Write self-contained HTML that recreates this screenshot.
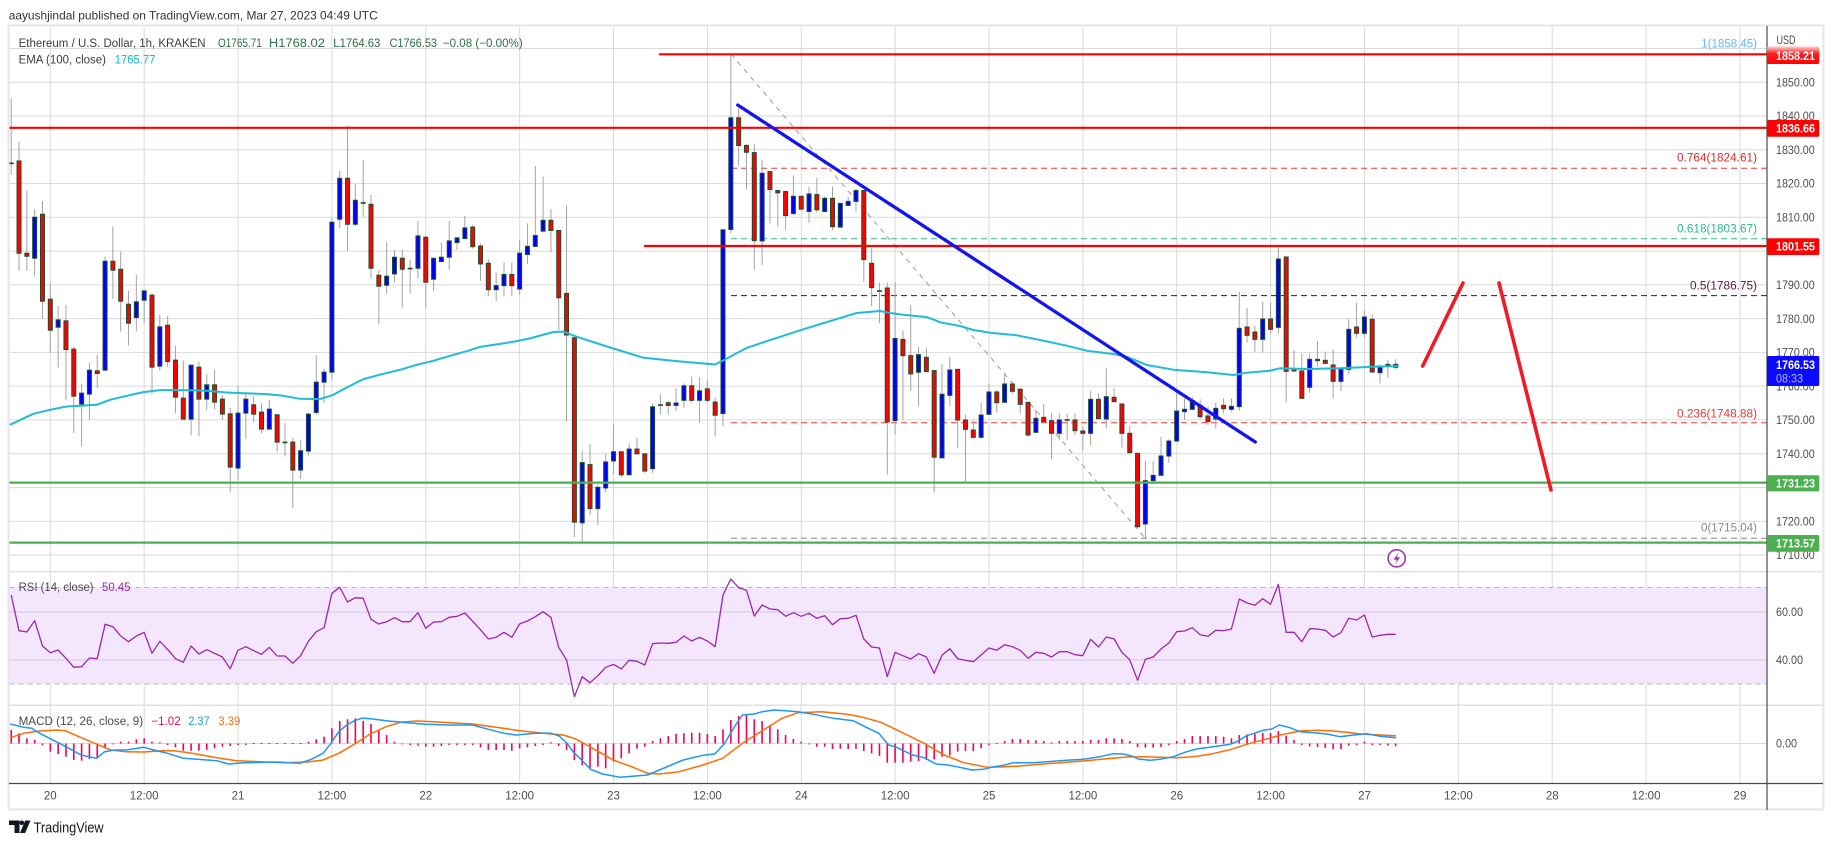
<!DOCTYPE html>
<html><head><meta charset="utf-8">
<style>
html,body{margin:0;padding:0;background:#fff;}
body{width:1834px;height:845px;overflow:hidden;position:relative;}
svg{position:absolute;left:0;top:0;}
</style></head><body>
<svg id="c" width="1834" height="845" viewBox="0 0 1834 845" xmlns="http://www.w3.org/2000/svg" font-family="Liberation Sans, Arial, sans-serif">
<defs>
<clipPath id="pp"><rect x="9.5" y="27" width="1757" height="544"/></clipPath>
<clipPath id="rp"><rect x="9.5" y="572.5" width="1757" height="132"/></clipPath>
<clipPath id="mp"><rect x="9.5" y="706" width="1757" height="77"/></clipPath>
<linearGradient id="bg1" x1="0" y1="0" x2="0" y2="1"><stop offset="0" stop-color="#ffd0d0"/><stop offset="0.4" stop-color="#ff2020"/><stop offset="1" stop-color="#ff0000"/></linearGradient>
</defs>
<rect x="0" y="0" width="1834" height="845" fill="#fff"/>
<g id="grid"></g>
<!-- RSI band -->
<rect x="9.5" y="587.5" width="1757" height="96.5" fill="#f3e6fd"/>
<line x1="9.5" y1="612" x2="1767" y2="612" stroke="#d4c4e2" stroke-width="1"/>
<line x1="9.5" y1="660" x2="1767" y2="660" stroke="#d4c4e2" stroke-width="1"/>
<line x1="9.5" y1="587.5" x2="1767" y2="587.5" stroke="#b8b8c0" stroke-width="1" stroke-dasharray="5,4"/>
<line x1="9.5" y1="684" x2="1767" y2="684" stroke="#b8b8c0" stroke-width="1" stroke-dasharray="5,4"/>
<line x1="9.5" y1="743.5" x2="1767" y2="743.5" stroke="#dadada" stroke-width="1"/>
<!-- pane separators -->
<line x1="9" y1="571.8" x2="1823" y2="571.8" stroke="#e0e2e8" stroke-width="1.5"/>
<line x1="9" y1="705.2" x2="1823" y2="705.2" stroke="#e0e2e8" stroke-width="1.5"/>
<!-- fib dashed lines -->
<g stroke-width="1" stroke-dasharray="6,4" fill="none">
<line x1="731" y1="168.2" x2="1767" y2="168.2" stroke="#e53935"/>
<line x1="731" y1="238.7" x2="1767" y2="238.7" stroke="#2fb88a"/>
<line x1="731" y1="295.6" x2="1767" y2="295.6" stroke="#4a0e2e"/>
<line x1="731" y1="422.8" x2="1767" y2="422.8" stroke="#e53935"/>
<line x1="731" y1="538.3" x2="1767" y2="538.3" stroke="#8a8a8a"/>
</g>
<line x1="731" y1="54" x2="1145" y2="538" stroke="#9a9a9a" stroke-width="1" stroke-dasharray="5,5"/>
<g id="candles" clip-path="url(#pp)"></g>
<g id="ema" clip-path="url(#pp)"></g>
<!-- horizontal S/R lines -->
<g stroke-width="2.2">
<line x1="659" y1="54.3" x2="1767" y2="54.3" stroke="#ff0000"/>
<line x1="9.5" y1="127.8" x2="1767" y2="127.8" stroke="#ff0000"/>
<line x1="644" y1="246" x2="1767" y2="246" stroke="#ff0000"/>
<line x1="9.5" y1="482.6" x2="1767" y2="482.6" stroke="#4caf50"/>
<line x1="9.5" y1="542.6" x2="1767" y2="542.6" stroke="#4caf50"/>
</g>
<!-- trend line -->
<line x1="737.7" y1="105" x2="1255.3" y2="442" stroke="#1414f0" stroke-width="3.3" stroke-linecap="round"/>
<!-- red arrows -->
<line x1="1422.7" y1="366" x2="1463" y2="283" stroke="#ee1c25" stroke-width="3.6" stroke-linecap="round"/>
<line x1="1499" y1="283" x2="1551" y2="490" stroke="#ee1c25" stroke-width="3.6" stroke-linecap="round"/>
<g id="rsi" clip-path="url(#rp)"></g>
<g id="macd" clip-path="url(#mp)"></g>
<!-- fib labels -->
<g font-size="11.5" text-anchor="end">
<text x="1757" y="47.3" fill="#64b5f6" textLength="55.7" lengthAdjust="spacingAndGlyphs">1(1858.45)</text>
<text x="1757" y="161.7" fill="#d32f2f" textLength="80" lengthAdjust="spacingAndGlyphs">0.764(1824.61)</text>
<text x="1757" y="232.7" fill="#2fb88a" textLength="80" lengthAdjust="spacingAndGlyphs">0.618(1803.67)</text>
<text x="1757" y="289.7" fill="#5e1a40" textLength="67" lengthAdjust="spacingAndGlyphs">0.5(1786.75)</text>
<text x="1757" y="417.3" fill="#e53935" textLength="80" lengthAdjust="spacingAndGlyphs">0.236(1748.88)</text>
<text x="1757" y="531.7" fill="#8a8a8a" textLength="56" lengthAdjust="spacingAndGlyphs">0(1715.04)</text>
</g>
<!-- lightning icon -->
<circle cx="1396.7" cy="558.3" r="8.6" fill="#fff" stroke="#9c27b0" stroke-width="1.5"/>
<path d="M1399,552 L1393.6,559.6 L1397,559.6 L1394.8,565 L1400,557.2 L1396.6,557.2 Z" fill="#9c27b0"/>
<!-- frame and axes -->
<rect x="8.5" y="25.5" width="1815" height="784" fill="none" stroke="#e3e5ea" stroke-width="2"/>
<line x1="1767" y1="26" x2="1767" y2="810" stroke="#4a4a4a" stroke-width="1.2"/>
<line x1="9" y1="783.5" x2="1823" y2="783.5" stroke="#4a4a4a" stroke-width="1.2"/>
<!-- price axis labels -->
<g font-size="11.5" fill="#4d4d4d">
<text x="1776.5" y="44" textLength="19" lengthAdjust="spacingAndGlyphs">USD</text>
<text x="1776" y="86.5" textLength="38.7" lengthAdjust="spacingAndGlyphs">1850.00</text>
<text x="1776" y="120.2" textLength="38.7" lengthAdjust="spacingAndGlyphs">1840.00</text>
<text x="1776" y="154" textLength="38.7" lengthAdjust="spacingAndGlyphs">1830.00</text>
<text x="1776" y="187.7" textLength="38.7" lengthAdjust="spacingAndGlyphs">1820.00</text>
<text x="1776" y="221.5" textLength="38.7" lengthAdjust="spacingAndGlyphs">1810.00</text>
<text x="1776" y="289" textLength="38.7" lengthAdjust="spacingAndGlyphs">1790.00</text>
<text x="1776" y="322.8" textLength="38.7" lengthAdjust="spacingAndGlyphs">1780.00</text>
<text x="1776" y="356.6" textLength="38.7" lengthAdjust="spacingAndGlyphs">1770.00</text>
<text x="1776" y="390.4" textLength="38.7" lengthAdjust="spacingAndGlyphs">1760.00</text>
<text x="1776" y="424.1" textLength="38.7" lengthAdjust="spacingAndGlyphs">1750.00</text>
<text x="1776" y="457.9" textLength="38.7" lengthAdjust="spacingAndGlyphs">1740.00</text>
<text x="1776" y="525.4" textLength="38.7" lengthAdjust="spacingAndGlyphs">1720.00</text>
<text x="1776" y="559.2" textLength="38.7" lengthAdjust="spacingAndGlyphs">1710.00</text>
<text x="1776" y="616.2" textLength="27" lengthAdjust="spacingAndGlyphs">60.00</text>
<text x="1776" y="664.2" textLength="27" lengthAdjust="spacingAndGlyphs">40.00</text>
<text x="1776" y="747.5" textLength="21" lengthAdjust="spacingAndGlyphs">0.00</text>
</g>
<!-- badges -->
<rect x="1767" y="46.5" width="52.3" height="17.5" rx="1.5" fill="url(#bg1)"/>
<rect x="1767" y="120" width="52.3" height="16.8" rx="1.5" fill="#ff0000"/>
<rect x="1767" y="238.2" width="52.3" height="16.8" rx="1.5" fill="#ff0000"/>
<rect x="1767" y="356" width="52.3" height="30" rx="1.5" fill="#0a0aff"/>
<rect x="1767" y="475.2" width="52.3" height="16.2" rx="1.5" fill="#4caf50"/>
<rect x="1767" y="535" width="52.3" height="16.7" rx="1.5" fill="#4caf50"/>
<g font-size="11.5" font-weight="bold" fill="#fff">
<text x="1776" y="60" textLength="39" lengthAdjust="spacingAndGlyphs">1858.21</text>
<text x="1776" y="132.5" textLength="39" lengthAdjust="spacingAndGlyphs">1836.66</text>
<text x="1776" y="250.7" textLength="39" lengthAdjust="spacingAndGlyphs">1801.55</text>
<text x="1776" y="369" textLength="39" lengthAdjust="spacingAndGlyphs">1766.53</text>
<text x="1776" y="487.4" textLength="39" lengthAdjust="spacingAndGlyphs">1731.23</text>
<text x="1776" y="547.4" textLength="39" lengthAdjust="spacingAndGlyphs">1713.57</text>
</g>
<text x="1776" y="382.5" font-size="11.5" fill="#b8b8ff" textLength="27" lengthAdjust="spacingAndGlyphs">08:33</text>
<!-- time labels -->
<g id="tl" font-size="11.5" fill="#4d4d4d" text-anchor="middle"></g>
<!-- header & legends -->
<text x="8.7" y="19.5" font-size="12" fill="#333" textLength="369" lengthAdjust="spacingAndGlyphs">aayushjindal published on TradingView.com, Mar 27, 2023 04:49 UTC</text>
<g font-size="11.5">
<text x="18.6" y="47" fill="#3c3c3c" textLength="187" lengthAdjust="spacingAndGlyphs">Ethereum / U.S. Dollar, 1h, KRAKEN</text>
<text x="218" y="47" fill="#2f6b4a" textLength="43.8" lengthAdjust="spacingAndGlyphs">O1765.71</text>
<text x="268.9" y="47" fill="#2f6b4a" textLength="56" lengthAdjust="spacingAndGlyphs">H1768.02</text>
<text x="333.3" y="47" fill="#2f6b4a" textLength="47" lengthAdjust="spacingAndGlyphs">L1764.63</text>
<text x="389.5" y="47" fill="#2f6b4a" textLength="47.5" lengthAdjust="spacingAndGlyphs">C1766.53</text>
<text x="442.9" y="47" fill="#2f6b4a" textLength="79.8" lengthAdjust="spacingAndGlyphs">−0.08 (−0.00%)</text>
<text x="18.6" y="63.5" fill="#3c3c3c" textLength="87.4" lengthAdjust="spacingAndGlyphs">EMA (100, close)</text>
<text x="114.7" y="63.5" fill="#00bcd4" textLength="40.7" lengthAdjust="spacingAndGlyphs">1765.77</text>
<text x="18.6" y="591" fill="#4a4a4a" textLength="75" lengthAdjust="spacingAndGlyphs">RSI (14, close)</text>
<text x="102" y="591" fill="#9c27b0" textLength="28.5" lengthAdjust="spacingAndGlyphs">50.45</text>
<text x="18.6" y="725" fill="#4a4a4a" textLength="124.5" lengthAdjust="spacingAndGlyphs">MACD (12, 26, close, 9)</text>
<text x="151.4" y="725" fill="#f50057" textLength="29.3" lengthAdjust="spacingAndGlyphs">−1.02</text>
<text x="188.2" y="725" fill="#2196f3" textLength="21.4" lengthAdjust="spacingAndGlyphs">2.37</text>
<text x="218.3" y="725" fill="#ff6d00" textLength="22" lengthAdjust="spacingAndGlyphs">3.39</text>
</g>
<!-- TradingView logo -->
<g fill="#131722">
<path d="M9,820.5 h10.5 v12.5 h-5 v-8 h-5.5 z"/>
<circle cx="21.8" cy="822.8" r="2.3"/>
<path d="M25.2,820.5 h5.3 l-5.4,12.5 h-5.2 z"/>
</g>
<text x="33.6" y="832.5" font-size="14.5" fill="#131722" textLength="70" lengthAdjust="spacingAndGlyphs">TradingView</text>
</svg>
<script>
(function(){
var NS='http://www.w3.org/2000/svg';
function el(p,t,a){var e=document.createElementNS(NS,t);for(var k in a)e.setAttribute(k,a[k]);p.appendChild(e);return e;}
function $(id){return document.getElementById(id);}
function cx(i){return 11.2+7.822*i;}
var grid=$('grid');
// vertical grid
for(var k=0;k<=18;k++){var x=50.3+93.87*k;el(grid,'line',{x1:x,y1:27,x2:x,y2:783,stroke:'#dadada','stroke-width':1});}
// horizontal price grid
for(var p=1860;p>=1710;p-=10){var y=555+(1710-p)*3.377;el(grid,'line',{x1:9.5,y1:y,x2:1767,y2:y,stroke:'#dadada','stroke-width':1});}
// time labels
var tl=$('tl');var labs=['20','12:00','21','12:00','22','12:00','23','12:00','24','12:00','25','12:00','26','12:00','27','12:00','28','12:00','29'];
for(var k=0;k<labs.length;k++){var t=el(tl,'text',{x:50.3+93.87*k,y:799.5});t.textContent=labs[k];}
// candles
var Z7=function(y){return 116+(y-78)*0.3331;};
var Z8=function(y){return 48.4+(y-28)*0.3384;};
var Z9=function(y){return 180+y/3;};
var c7="n,220,220,25,255;d,213,490,155,543;d,490,499,302,543;u,382,505,357,560;d,373,634,333,687;d,628,721,578,790;u,690,712,648,833;d,693,779,645,932;d,778,919,770,1030;u,910,943,882,1070;u,841,913,820,990;d,843,851,795,895;u,514,841,500,841;d,514,541,410,627;d,538,634,485,725;d,643,700,603,767;u,636,683,555,725;u,603,631,603,700;d,616,832,610,912;u,711,829,675,842;d,706,815,678,832;d,811,922,768,970;d,925,988,812,988;u,826,988,826,1037;d,832,928,815,1040;u,885,928,852,962;d,885,937,840,960;d,928,973,915,990;d,972,1132,955,1208;u,970,1135,888,1172;u,928,970,913,1048;d,945,973,918,997;d,967,1018,940,1030;u,958,1018,930,1020;d,975,1057,975,1087;n,1058,1058,1000,1100;d,1057,1141,1043,1255;u,1083,1141,1052,1168;u,973,1084,970,1097;u,877,968,797,975;u,847,877,836,940;u,397,847,385,870;u,265,388,243,415;d,265,403,107,483;u,331,403,283,408;n,339,339,210,380;d,343,535,315,565;d,556,589,540,703;u,559,586,456,611;u,502,552,480,578;d,505,538,480,653;n,536,536,510,610;u,438,535,393,565;d,442,577,437,656;u,505,568,505,604;u,502,515,458,515;u,453,502,393,540;u,444,458,441,480;u,414,446,378,447";
var c8="d,556,614,550,620;d,612,665,605,715;d,663,741,650,760;u,729,741,690,775;u,696,729,660,760;d,696,729,660,760;u,633,739,595,755;u,613,637,545,665;u,581,613,375,615;u,536,568,407,570;d,536,566,503,630;d,566,765,566,860;d,752,875,493,1130;d,883,1428,883,1472;u,1252,1430,1216,1485;d,1258,1388,1198,1408;u,1325,1388,1317,1437;u,1250,1327,1225,1340;u,1220,1247,1140,1285;d,1220,1288,1220,1295;u,1212,1288,1195,1290;d,1212,1226,1178,1226;d,1226,1277,1226,1282;u,1087,1270,1077,1283;n,1082,1082,1050,1110;d,1075,1083,1070,1110;u,1076,1083,1032,1100;u,1025,1068,1018,1090;d,1025,1068,998,1075;u,1040,1068,1000,1135;d,1034,1068,1010,1075;d,1073,1112,1060,1175;u,564,1107,564,1145;u,233,563,45,575;d,233,315,205,375;d,315,335,310,445;d,336,596,310,682;u,397,597,358,668;d,392,445,390,545;d,448,455,448,555;d,451,522,450,565;u,465,516,403,520;d,465,503,465,505;u,458,510,437,543;d,460,505,410,513;u,471,510,465,510;d,471,555,436,565;u,486,556,486,558;u,480,492,467,492;u,448,480,442,510;d,448,652,448,718;d,663,735,618,790;n,745,745,720,840;d,736,1132,720,1288;u,885,1128,718,1170;d,888,936,862,1125;d,936,990,786,1040;u,933,985,910,1085;d,941,983,912,985;d,980,1236,980,1340;u,1050,1238,960,1238";
var c9="u,570,646,530,678;d,568,720,568,805;d,720,748,705,905;d,750,772,722,775;u,705,772,668,775;u,636,703,610,705;d,636,668,630,698;u,612,667,578,668;d,612,634,605,640;d,628,673,622,700;d,667,765,667,770;u,715,757,690,760;d,712,725,672,730;d,722,760,700,838;u,720,760,700,780;n,720,720,700,780;d,720,752,700,765;d,753,760,740,812;u,658,760,633,795;d,658,716,640,718;u,650,717,565,745;d,652,665,625,665;d,672,760,672,803;d,760,818,737,818;d,820,1040,820,1045;u,902,1032,842,1073;u,886,902,843,902;u,828,886,770,887;u,783,828,778,848;u,693,783,638,785;u,688,695,655,720;u,662,688,650,690;d,676,710,658,718;d,708,725,680,735;u,685,717,668,745;d,676,686,655,700;u,679,688,655,695;u,445,680,335,692;d,441,466,383,488;d,456,478,438,515;u,417,478,365,518;d,417,448,368,460;u,237,442,200,460;d,231,574,227,668;d,567,573,510,575;d,573,655,520,657;u,538,622,520,638;d,538,542,483,560;d,541,550,515,552;d,555,604,508,655;u,568,604,568,633;u,448,568,418,583;d,441,460,368,474;u,411,460,392,474;d,418,576,403,577;u,558,578,555,610;u,553,558,540,593;u,553,562,538,568";
var cg=$('candles');var idx=0;
function addSet(str,f){var arr=str.split(';');for(var j=0;j<arr.length;j++){var a=arr[j].split(',');var t=a[0];var bt=f(+a[1]),bb=f(+a[2]),wt=f(+a[3]),wb=f(+a[4]);var x=cx(idx);
 el(cg,'line',{x1:x,y1:wt,x2:x,y2:wb,stroke:'#a3a3a3','stroke-width':1});
 if(t==='n'){el(cg,'rect',{x:x-2.5,y:bt-0.8,width:5,height:1.6,fill:'#1f4d2c'});}
 else{var h=Math.max(bb-bt,1.2);el(cg,'rect',{x:x-2,y:bt,width:4,height:h,fill:(t==='u'?'#0000ff':'#ff0000'),stroke:'#1f4d2c','stroke-width':1});}
 idx++;}}
addSet(c7,Z7);addSet(c8,Z8);addSet(c9,Z9);
// EMA
var e7=[[30,1005],[100,972],[150,960],[200,950],[290,945],[330,930],[380,918],[430,907],[480,901],[550,901],[620,903],[680,908],[720,910],[800,913],[850,918],[900,927],[960,928],[1000,915],[1040,893],[1090,868],[1150,852],[1200,840],[1250,825],[1300,813],[1350,798],[1400,784]];
var e8=[[30,910],[130,895],[180,885],[250,866],[280,865],[320,880],[420,912],[520,942],[620,952],[735,962],[760,950],[830,913],[900,890],[1000,858],[1100,828],[1160,810],[1230,804],[1260,810],[1300,815],[1370,822],[1400,833]];
var e9=[[0,427],[60,438],[100,450],[150,458],[230,466],[300,480],[380,497],[440,512],[520,522],[560,530],[620,555],[700,569],[800,577],[880,585],[920,578],[990,572],[1020,565],[1100,567],[1200,565],[1300,560],[1376,558]];
var pts=[];
e7.forEach(function(q){pts.push((q[0]/3).toFixed(1)+','+Z7(q[1]).toFixed(1));});
e8.forEach(function(q){pts.push((470+q[0]/3).toFixed(1)+','+Z8(q[1]).toFixed(1));});
e9.forEach(function(q){pts.push((940+q[0]/3).toFixed(1)+','+Z9(q[1]).toFixed(1));});
el($('ema'),'polyline',{points:pts.join(' '),fill:'none',stroke:'#1fbcd4','stroke-width':2,'stroke-linejoin':'round'});
// RSI
var r6=[105,212,216,182,258,278,270,295,322,320,294,296,193,200,228,245,228,217,280,244,268,296,307,258,282,269,280,291,326,271,260,272,283,262,288,288,310,287,244,215,203,100,82,126,113,115,178,192,185,173,185,185,158,205,186,185,172,169,159,184,209,237,232,217,232,192,183,170,155,172,262,300,410,350,368,347,322,313];
var r10=[282,256,259,270,206,204,205,202,183,198,187,198,215,60,12,38,46,123,90,102,104,124,113,124,115,130,122,149,131,130,121,192,216,219,305,232,242,252,236,246,295,241,221,251,256,260,240,219,226];
var r11=[209,215,226,250,232,235,246,230,230,239,242,193,216,186,192,232,254,316,253,246,222,204,170,168,158,179,184,166,167,162,72,84,91,71,88,28,172,172,200,161,162,166,186,173,130,135,120,186,181,178,178];
var rp=[];var i=0;
r6.forEach(function(v){rp.push(cx(i).toFixed(1)+','+(560+v/3).toFixed(1));i++;});
r10.forEach(function(v){rp.push(cx(i).toFixed(1)+','+(575+v/3).toFixed(1));i++;});
r11.forEach(function(v){rp.push(cx(i).toFixed(1)+','+(575+v/3).toFixed(1));i++;});
el($('rsi'),'polyline',{points:rp.join(' '),fill:'none',stroke:'#9c27b0','stroke-width':1.3,'stroke-linejoin':'round'});
// MACD histogram
var mg=$('macd');var z0=743.5;
var h4=[120,130,145,150,165,185,192,200,210,212,207,205,175,163,155,155,148,145,155,157,165,172,182,182,182,180,175,170,168,165,165,162,162,160,160,162,160,160,155,148,140,115,93,88,85,93,102,120,135,155,163,165,167,170,170,168,165,165,165,165,172,180,180,180,182,175,172,168,165,157,168,180,210,225,235,230,235];
var h5=[215,205,190,176,170,153,145,138,132,130,128,128,132,138,118,90,78,72,88,93,105,118,135,147,155,163,170,170,177,176,177,176,183,190,198,218,218,218,215,213,210,208,200,197,185,183,183,175,165,160];
var h11=[498,492,492,495,496,498,502,498,498,498,498,495,495,490,490,492,498,516,518,518,516,510,498,492,483,483,483,483,485,490,480,478,477,474,474,468,482,495,510,514,516,519,522,522,512,510,500,510,510,512,514];
var hv=[];h4.forEach(function(v){hv.push(690+v/3);});h5.forEach(function(v){hv.push(690+v/3);});h11.forEach(function(v){hv.push(575+v/3);});
for(var k=0;k<hv.length;k++){var x=cx(k);var y=hv[k];var y1=Math.min(y,z0),y2=Math.max(y,z0);if(y2-y1<0.8){y1=z0-0.5;y2=z0+0.5;}el(mg,'rect',{x:x-0.8,y:y1,width:1.6,height:y2-y1,fill:'#f50057'});}
function conv4(a){return a.map(function(q){return (50.3+(q[0]-127)*0.3936).toFixed(1)+','+(690+q[1]/3).toFixed(1);});}
function conv5(a){return a.map(function(q){return (614+(q[0]-35)*0.3952).toFixed(1)+','+(690+q[1]/3).toFixed(1);});}
function conv11(a){return a.map(function(q){return (1000+q[0]/3).toFixed(1)+','+(575+q[1]/3).toFixed(1);});}
var ob4=[[25,143],[60,130],[100,123],[145,120],[165,122],[200,140],[240,160],[280,180],[320,185],[365,186],[410,182],[440,182],[480,188],[550,203],[600,212],[660,215],[720,218],[780,216],[820,210],[860,190],[900,162],[940,132],[980,110],[1020,96],[1060,93],[1100,95],[1200,102],[1260,112],[1320,122],[1380,130],[1430,135],[1460,146],[1490,165],[1520,185],[1550,205],[1568,215]];
var ob5=[[80,230],[120,250],[150,252],[200,245],[260,225],[310,205],[360,160],[420,115],[460,85],[500,68],[560,65],[620,72],[660,80],[710,97],[760,125],[820,160],[870,195],[920,218],[980,232]];
var ob11=[[0,576],[60,573],[120,568],[180,563],[250,558],[320,551],[380,546],[430,545],[480,547],[530,548],[580,545],[630,538],[690,524],[750,505],[800,492],[850,478],[900,468],[950,466],[990,467],[1040,472],[1090,478],[1140,480],[1188,482]];
var bb4=[[25,102],[60,112],[80,115],[100,130],[125,145],[150,160],[170,172],[205,195],[245,205],[265,185],[290,180],[320,180],[365,172],[400,183],[425,190],[465,205],[500,208],[550,212],[580,222],[620,218],[700,216],[760,220],[790,208],[820,190],[840,160],[860,125],[880,105],[900,92],[920,84],[940,86],[980,92],[1020,97],[1080,103],[1140,105],[1200,105],[1240,118],[1280,130],[1310,135],[1360,130],[1400,130],[1420,138],[1440,160],[1455,185],[1475,208],[1500,238],[1530,252],[1568,260]];
var bb5=[[50,262],[120,255],[150,240],[210,210],[260,196],[290,192],[315,160],[340,110],[360,75],[390,72],[410,65],[440,60],[470,62],[500,65],[540,73],[590,85],[640,92],[670,110],[705,130],[730,165],[750,172],[790,195],[820,203],[850,222],[880,225],[910,232],[940,240],[970,238],[990,232]];
var bb11=[[15,570],[40,563],[100,563],[160,559],[200,556],[250,553],[300,545],[340,536],[370,537],[395,543],[415,552],[450,556],[480,553],[520,545],[560,530],[590,522],[640,515],[690,508],[710,500],[740,482],[790,466],[815,462],[838,450],[870,458],[900,470],[950,474],[980,477],[1020,485],[1060,480],[1100,476],[1140,484],[1188,488]];
var op=conv4(ob4).concat(conv5(ob5)).concat(conv11(ob11));
var bp=conv4(bb4).concat(conv5(bb5)).concat(conv11(bb11));
el(mg,'polyline',{points:op.join(' '),fill:'none',stroke:'#ff6d00','stroke-width':1.5,'stroke-linejoin':'round'});
el(mg,'polyline',{points:bp.join(' '),fill:'none',stroke:'#2196f3','stroke-width':1.5,'stroke-linejoin':'round'});
})();
</script>
</body></html>
